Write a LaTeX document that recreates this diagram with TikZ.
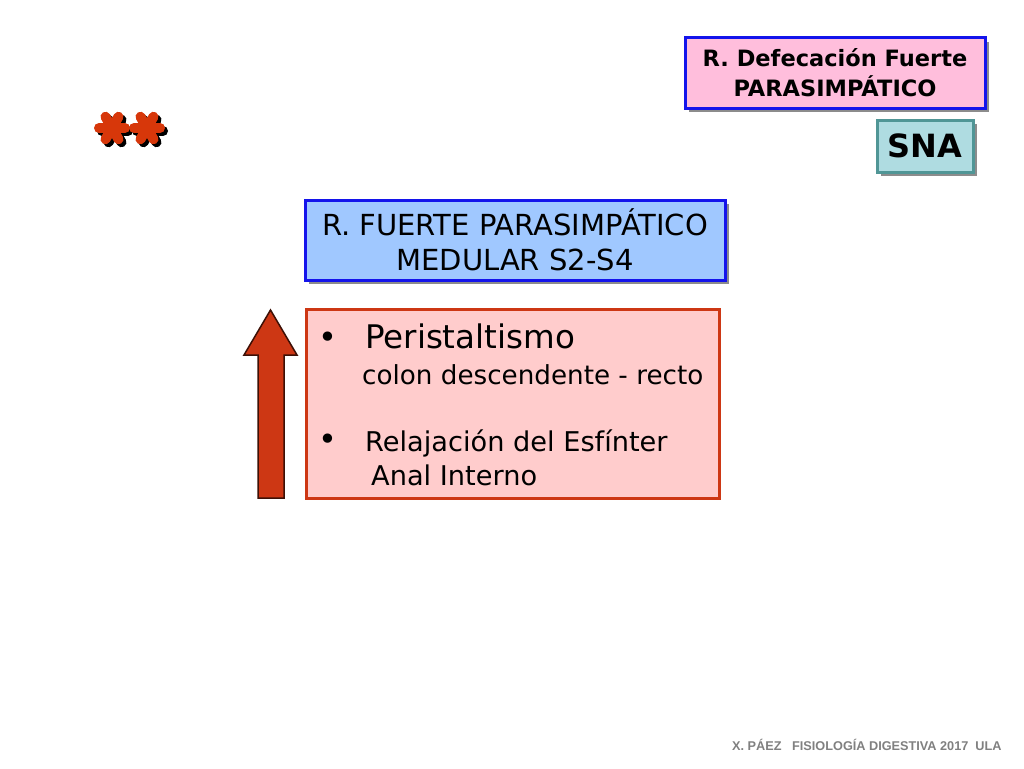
\documentclass[tikz,border=0pt]{standalone}
\usepackage{fontspec}
\setmainfont{DejaVu Sans}
\newfontfamily\footfont{Liberation Sans}
\usetikzlibrary{shadows}
\definecolor{pinkA}{RGB}{255,190,220}
\definecolor{blueB}{RGB}{20,20,235}
\definecolor{tealF}{RGB}{175,220,225}
\definecolor{tealB}{RGB}{80,150,150}
\definecolor{skyF}{RGB}{160,200,255}
\definecolor{roseF}{RGB}{255,204,204}
\definecolor{redB}{RGB}{205,55,20}
\definecolor{starR}{RGB}{215,55,10}
\tikzset{
  box/.style={draw, line width=3pt, inner sep=0pt, align=center,
    drop shadow={shadow xshift=4pt, shadow yshift=-4pt, fill=black!45, opacity=1}},
  txt/.style={inner sep=0pt, anchor=base west},
  astarm/.style={line width=10pt, line cap=round}
}
\newcommand{\asterfl}[3]{%
  \foreach \ang in {0,60,120}{
    \draw[astarm,#3] ($(#1,#2)+(\ang:13)$) -- ($(#1,#2)+(\ang+180:13)$);
  }}
\usetikzlibrary{calc}
\begin{document}
\begin{tikzpicture}[x=1pt,y=-1pt]
\useasboundingbox (0,0) rectangle (1024,768);
\fill[white] (0,0) rectangle (1024,768);
% top right
\node[box, draw=blueB, fill=pinkA, minimum width=300pt, minimum height=70pt,
  font=\fontsize{22.5}{30}\selectfont\bfseries] (top) at (835,73)
  {R. Defecación Fuerte\\PARASIMPÁTICO};
\node[box, draw=tealB, fill=tealF, minimum width=96pt, minimum height=52pt,
  font=\fontsize{32}{36}\selectfont\bfseries] (sna) at (925,146) {SNA};
% stars (asterisks with shadow)
\asterfl{115}{131}{draw=black}
\asterfl{150}{131}{draw=black}
\asterfl{112}{128}{draw=starR}
\asterfl{147}{128}{draw=starR}
% blue box
\node[box, draw=blueB, fill=skyF, minimum width=420pt, minimum height=80pt,
  font=\fontsize{29}{35}\selectfont] (med) at (515,240)
  {R. FUERTE PARASIMPÁTICO\\MEDULAR S2-S4};
% pink main box
\node[draw=redB, line width=3pt, fill=roseF, minimum width=413pt, minimum height=189pt,
  inner sep=0pt] (main) at (512.5,403.5) {};
\node[txt, font=\fontsize{32}{32}\selectfont] (b1) at (318,348) {•};
\node[txt, font=\fontsize{32.5}{32}\selectfont] (p1) at (365,348) {Peristaltismo};
\node[txt, font=\fontsize{26.2}{26}\selectfont] (p2) at (362,384) {colon descendente - recto};
\node[txt, font=\fontsize{32}{32}\selectfont] (b2) at (318,450) {•};
\node[txt, font=\fontsize{27.2}{27}\selectfont] (p3) at (365,451) {Relajación del Esfínter};
\node[txt, font=\fontsize{27.2}{27}\selectfont] (p4) at (371,485) {Anal Interno};
% arrow
\draw[fill=redB, draw=black!70!redB, line width=1.5pt]
  (258,498) -- (258,355) -- (244,355) -- (270.5,310) -- (297,355) -- (284,355) -- (284,498) -- cycle;
% footer
\node[txt, font=\footfont\bfseries\fontsize{12.7}{14}\selectfont, text=black!50] (foot) at (732,750)
  {X. PÁEZ\ \ \ FISIOLOGÍA DIGESTIVA 2017\ \ ULA};
\end{tikzpicture}
\end{document}
